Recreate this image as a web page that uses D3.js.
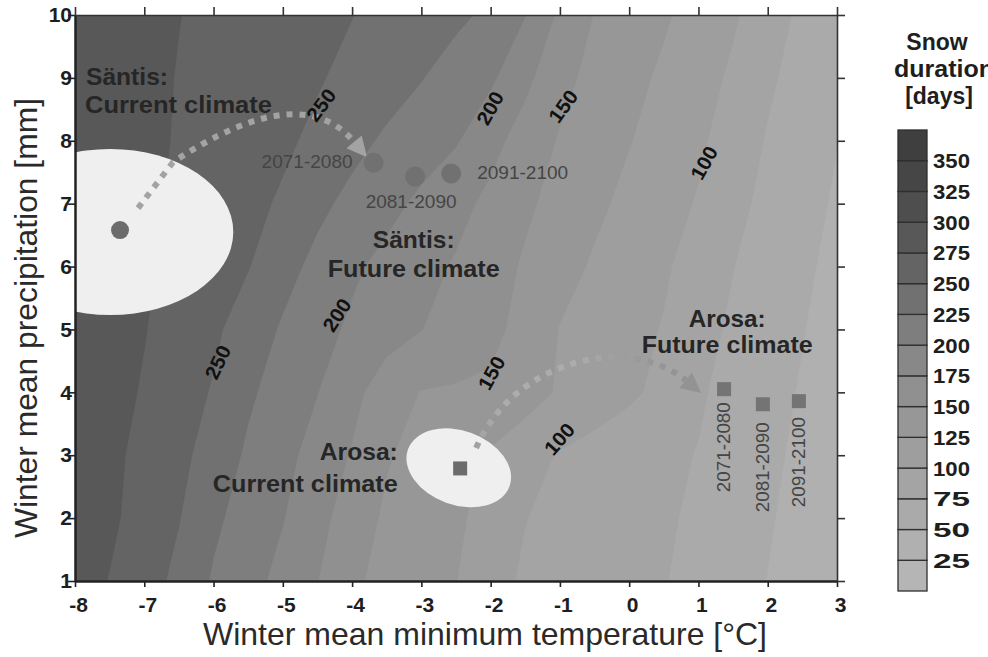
<!DOCTYPE html>
<html><head><meta charset="utf-8">
<script src="https://cdn.jsdelivr.net/npm/d3@7"></script>
<style>
body{margin:0;background:#fff}
svg{display:block}
text{font-family:"Liberation Sans",Arial,Helvetica,sans-serif}
</style>
</head><body>
<svg id="chart" width="988" height="657"></svg>
<script>
// ---------------- DATA ----------------
const tempGrid = [-8,-7.5,-7,-6.5,-6,-5.5,-5,-4.5,-4,-3.5,-3,-2.5,-2,-1.5,-1,-0.5,0,0.5,1,1.5,2,2.5,3];
const precipGrid = [1,2,3,4,5,6,7,8,9,10];
// snow duration [days], one row per precipitation value, one column per temperature value
const snowDays = [
 [286,274,260,244,222,208,193,175.5,154,143,134,125.5,107,97,92,87,81,76,68,59,49.5,41,32],
 [289,280,264,251,230,214,201,183,162.5,146,137.5,129,116,100.5,94.5,89,84,78,71,61,52,43,34],
 [291,280,269,256,240,221,207,191,173,152,142,132,122,109,98,92,86,80,74,64,55,45,36],
 [294,283,273,261,248,229,214,200.5,182,162,149,147.5,146,136,122,112,104,94,78,67,58,48,38.5],
 [296,286,276,265,254,239,222,208,196,185,175.5,165,156,142,124,116,107.5,98.5,84,71,61,51,41],
 [298,288,278,269,260,251,234,218,204,193,183,172.5,160,147,134,122,112.5,103,90,75.5,65,54,44],
 [298,289,280,271,264,256,247,231,218,207,195,182.5,169,154,142,130,119,109,98,82,68.5,58,47],
 [297,289,281,273,267,260,254,245,232.5,221,211.5,202,183,164,148,137,126,115,104,89,73,61,50.5],
 [296,289,281,274,269,263,258,252,244,236,226,214,204,181,157,143,132,121,109.5,96,79,65.5,54],
 [295,288,282,275.5,270,265,260,255,250.5,244,237,230,220,200.5,170.5,149,138.5,128,116,103,86,70,57.5]
];
const levels = [25,50,75,100,125,150,175,200,225,250,275,300,325,350];
const xTicks = [-8,-7,-6,-5,-4,-3,-2,-1,0,1,2,3];
const yTicks = [1,2,3,4,5,6,7,8,9,10];

const santisCurrent = {t:-7.35, p:6.58};
const santisFuture = [
  {t:-3.69, p:7.65, label:"2071-2080"},
  {t:-3.09, p:7.43, label:"2081-2090"},
  {t:-2.57, p:7.48, label:"2091-2100"}
];
const arosaCurrent = {t:-2.44, p:2.79};
const arosaFuture = [
  {t:1.37, p:4.05, label:"2071-2080"},
  {t:1.93, p:3.81, label:"2081-2090"},
  {t:2.45, p:3.86, label:"2091-2100"}
];
// variability ellipses (centre, half-widths in data units, tilt in degrees)
const santisEllipse = {t:-7.49, p:6.55, rt:1.775, rp:1.32, angle:0};
const arosaEllipse  = {t:-2.46, p:2.80, rt:0.78, rp:0.59, angle:20};
// contour labels
const contourLabels = [
  {v:"250", t:-4.45, p:8.57, a:-53},
  {v:"200", t:-2.01, p:8.52, a:-61},
  {v:"150", t:-0.955, p:8.55, a:-54},
  {v:"100", t:1.08, p:7.65, a:-61},
  {v:"250", t:-5.94, p:4.48, a:-65},
  {v:"200", t:-4.22, p:5.23, a:-57},
  {v:"150", t:-1.99, p:4.31, a:-61},
  {v:"100", t:-1.01, p:3.26, a:-49}
];

// ---------------- STYLE ----------------
// grey level of each colour band, darkest (>350) first, lightest (<25) last
const greyLevels = [63,70,78,88,100,113,126,136,144,151,158,164,170,176,181];

// ---------------- LAYOUT ----------------
const svg = d3.select("#chart");
const L = 75, R = 837, T = 15, B = 581;
const x = d3.scaleLinear().domain(d3.extent(xTicks)).range([L, R]);
const y = d3.scaleLinear().domain(d3.extent(yTicks)).range([B, T]);

const step = levels[1] - levels[0];
const topLevel = levels[levels.length-1] + step;
function bandColor(v){ // v = lower bound of band
  const i = Math.round((levels[levels.length-1] - v) / step); // 0 = darkest
  const g = greyLevels[i];
  return d3.rgb(g,g,g).toString();
}

svg.append("rect").attr("width",988).attr("height",657).attr("fill","#fff");
const defs = svg.append("defs");
defs.append("clipPath").attr("id","clip").append("rect")
  .attr("x",L).attr("y",T).attr("width",R-L).attr("height",B-T);

const plot = svg.append("g").attr("clip-path","url(#clip)");
plot.append("rect").attr("x",L).attr("y",T).attr("width",R-L).attr("height",B-T)
  .attr("fill", bandColor(0));

const nx = tempGrid.length, ny = precipGrid.length;
const dT = tempGrid[1]-tempGrid[0], dP = precipGrid[1]-precipGrid[0];
const proj = d3.geoTransform({point(px,py){
  this.stream.point(x(tempGrid[0] + (px-0.5)*dT), y(precipGrid[0] + (py-0.5)*dP));
}});
const gpath = d3.geoPath(proj);
const contours = d3.contours().size([nx,ny]).thresholds(levels)(snowDays.flat());
plot.selectAll("path.band").data(contours).join("path")
  .attr("class","band").attr("d", gpath).attr("fill", d => bandColor(d.value))
  .attr("stroke", d => bandColor(d.value)).attr("stroke-width",0.3);

// ellipses
function drawEllipse(e){
  const cx = x(e.t), cy = y(e.p);
  plot.append("ellipse").attr("cx",cx).attr("cy",cy)
    .attr("rx", x(e.t+e.rt)-cx).attr("ry", cy - y(e.p+e.rp))
    .attr("transform", `rotate(${e.angle},${cx},${cy})`)
    .attr("fill","#efefef");
}
drawEllipse(santisEllipse);
drawEllipse(arosaEllipse);

// dashed arrows
function arrowHead(tip, from, len, half, fill){
  const dx = tip[0]-from[0], dy = tip[1]-from[1];
  const d = Math.hypot(dx,dy), ux = dx/d, uy = dy/d;
  const base = [tip[0]-ux*len, tip[1]-uy*len];
  plot.append("path").attr("d",
    `M${tip[0]},${tip[1]}L${base[0]-uy*half},${base[1]+ux*half}L${base[0]+uy*half},${base[1]-ux*half}Z`)
    .attr("fill", fill);
  return base;
}
// Säntis arrow
{
  const col = "#a3a3a3";
  const p0 = [x(-7.09), y(6.93)], p1 = [x(-6.585), y(7.66)];
  const c = [x(-4.75), y(9.0)], tip = [x(-3.785), y(7.74)];
  const base = arrowHead(tip, c, 20, 10, col);
  plot.append("path").attr("d", `M${p0}L${p1}Q${c} ${base}`)
    .attr("fill","none").attr("stroke",col).attr("stroke-width",6)
    .attr("stroke-dasharray","6,7");
}
// Arosa arrow (slightly darker towards its head, as in the original)
{
  const p0 = [x(-2.21), y(3.115)], c1 = [x(-1.65), y(4.55)];
  const c2 = [x(0.01), y(4.92)], tip = [x(1.04), y(3.99)];
  const grad = defs.append("linearGradient").attr("id","arosaGrad")
    .attr("gradientUnits","userSpaceOnUse")
    .attr("x1",p0[0]).attr("y1",0).attr("x2",tip[0]).attr("y2",0);
  [[0,"#a2a2a2"],[0.12,"#adadad"],[0.45,"#acacac"],[0.7,"#9a9a9a"],[1,"#909090"]]
    .forEach(s=>grad.append("stop").attr("offset",s[0]).attr("stop-color",s[1]));
  const base = arrowHead(tip, c2, 20, 10, "#939393");
  plot.append("path").attr("d", `M${p0}C${c1} ${c2} ${base}`)
    .attr("fill","none").attr("stroke","url(#arosaGrad)").attr("stroke-width",6)
    .attr("stroke-dasharray","6,7");
}

// markers
plot.append("circle").attr("cx",x(santisCurrent.t)).attr("cy",y(santisCurrent.p)).attr("r",9).attr("fill","#6c6c6c");
plot.selectAll("circle.fut").data(santisFuture).join("circle").attr("class","fut")
  .attr("cx",d=>x(d.t)).attr("cy",d=>y(d.p)).attr("r",10).attr("fill","#717171");
const sq = 14;
plot.append("rect").attr("x",x(arosaCurrent.t)-sq/2).attr("y",y(arosaCurrent.p)-sq/2)
  .attr("width",sq).attr("height",sq).attr("fill","#6c6c6c");
plot.selectAll("rect.fut").data(arosaFuture).join("rect").attr("class","fut")
  .attr("x",d=>x(d.t)-sq/2).attr("y",d=>y(d.p)-sq/2).attr("width",sq).attr("height",sq)
  .attr("fill","#747474");

// year labels
const yearStyle = s => s.attr("font-size",19).attr("fill","#454545");
const sOff = [{dx:-21,dy:5,anchor:"end"},{dx:-4,dy:31,anchor:"middle"},{dx:26,dy:6,anchor:"start"}];
santisFuture.forEach((d,i)=>{
  svg.append("text").attr("x",x(d.t)+sOff[i].dx).attr("y",y(d.p)+sOff[i].dy)
    .attr("text-anchor",sOff[i].anchor).attr("textLength",91).attr("lengthAdjust","spacingAndGlyphs")
    .text(d.label).call(yearStyle);
});
const aOff = [58,63,61];
arosaFuture.forEach((d,i)=>{
  const cx = x(d.t)-1, cy = y(d.p)+aOff[i];
  svg.append("text").attr("transform",`translate(${cx},${cy}) rotate(-90)`)
    .attr("text-anchor","middle").attr("dy","0.36em").attr("textLength",90).attr("lengthAdjust","spacingAndGlyphs")
    .text(d.label).call(yearStyle);
});

// contour labels
contourLabels.forEach(d=>{
  svg.append("text").attr("transform",`translate(${x(d.t)},${y(d.p)}) rotate(${d.a})`)
    .attr("text-anchor","middle").attr("dy","0.36em")
    .attr("font-size",20).attr("font-weight","bold").attr("fill","#111")
    .attr("textLength",35).attr("lengthAdjust","spacingAndGlyphs")
    .text(d.v);
});

// site annotations
const notes = [
  {s:"Säntis:", t:-7.841, p:8.887, w:82, anchor:"start"},
  {s:"Current climate", t:-7.856, p:8.442, w:187, anchor:"start"},
  {s:"Säntis:", t:-3.11, p:6.295, w:82, anchor:"middle"},
  {s:"Future climate", t:-3.11, p:5.834, w:172, anchor:"middle"},
  {s:"Arosa:", t:-3.34, p:2.924, w:78, anchor:"end"},
  {s:"Current climate", t:-3.34, p:2.415, w:185, anchor:"end"},
  {s:"Arosa:", t:1.415, p:5.039, w:77, anchor:"middle"},
  {s:"Future climate", t:1.415, p:4.625, w:171, anchor:"middle"}
];
notes.forEach(n=>{
  svg.append("text").attr("x",x(n.t)).attr("y",y(n.p)).attr("text-anchor",n.anchor)
    .attr("font-size",24).attr("font-weight","bold").attr("fill","#262626")
    .attr("textLength",n.w).attr("lengthAdjust","spacingAndGlyphs").text(n.s);
});

// ---------------- AXES ----------------
const fmt = d => String(d);
const gx = svg.append("g").attr("transform",`translate(0,${B})`)
  .call(d3.axisBottom(x).tickValues(xTicks).tickFormat(fmt).tickSize(6).tickPadding(10).tickSizeOuter(0));
const gy = svg.append("g").attr("transform",`translate(${L},0)`)
  .call(d3.axisLeft(y).tickValues(yTicks).tickFormat(fmt).tickSize(7).tickPadding(-4).tickSizeOuter(0));
const gt = svg.append("g").attr("transform",`translate(0,${T})`)
  .call(d3.axisTop(x).tickValues(xTicks).tickFormat("").tickSize(8).tickSizeOuter(0));
const gr = svg.append("g").attr("transform",`translate(${R},0)`)
  .call(d3.axisRight(y).tickValues(yTicks).tickFormat("").tickSize(8).tickSizeOuter(0));
[gx,gy].forEach(g=>{
  g.select(".domain").attr("stroke","#222").attr("stroke-width",2.5);
  g.selectAll(".tick line").attr("stroke","#222").attr("stroke-width",1.6);
  g.selectAll(".tick text").attr("font-size",21).attr("font-weight","bold").attr("fill","#1e1e1e")
    .attr("font-family",null);
});
gx.selectAll(".tick text").attr("dx",3);
[gt,gr].forEach(g=>{
  g.select(".domain").attr("stroke","#333").attr("stroke-width",1.6);
  g.selectAll(".tick line").attr("stroke","#333").attr("stroke-width",1.6);
});

// axis titles
svg.append("text").attr("x",485).attr("y",645).attr("text-anchor","middle")
  .attr("font-size",32).attr("fill","#2a2a2a").attr("textLength",564).attr("lengthAdjust","spacingAndGlyphs")
  .text("Winter mean minimum temperature [°C]");
svg.append("text").attr("transform","translate(37,318) rotate(-90)").attr("text-anchor","middle")
  .attr("font-size",32).attr("fill","#2a2a2a").attr("textLength",440).attr("lengthAdjust","spacingAndGlyphs")
  .text("Winter mean precipitation [mm]");

// ---------------- COLOUR BAR ----------------
const cb = d3.scaleLinear().domain([0, topLevel]).range([591, 130]);
const bands = [0, ...levels];
const cbg = svg.append("g");
cbg.selectAll("rect").data(bands).join("rect")
  .attr("x",898).attr("width",29)
  .attr("y",d=>cb(d+step)).attr("height",d=>cb(d)-cb(d+step))
  .attr("fill",bandColor).attr("stroke","#2e2e2e").attr("stroke-width",1.3);
cbg.selectAll("text").data(levels).join("text")
  .attr("x",933).attr("y",d=>cb(d)).attr("dy","0.36em")
  .attr("font-size",21).attr("font-weight","bold").attr("fill","#1e1e1e")
  .attr("textLength",37).attr("lengthAdjust","spacingAndGlyphs")
  .text(d=>d);
const tt = svg.append("g").attr("font-size",23).attr("font-weight","bold").attr("fill","#1e1e1e");
tt.append("text").attr("x",937).attr("y",50).attr("text-anchor","middle").text("Snow");
tt.append("text").attr("x",894).attr("y",77).attr("textLength",100).attr("lengthAdjust","spacingAndGlyphs").text("duration");
tt.append("text").attr("x",939).attr("y",104).attr("text-anchor","middle").text("[days]");
</script>
</body></html>
